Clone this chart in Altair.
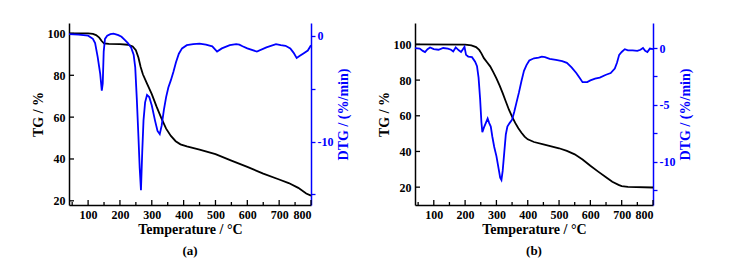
import altair as alt
import pandas as pd

SERIF = "Liberation Serif"
BLUE = "#0000FF"
BLACK = "#000000"

# ---------------- Panel (a) ----------------
TA_TG = [40, 100, 115, 125, 135, 142, 150, 165, 200, 225, 240, 250, 258, 265, 272, 285, 300,
         315, 330, 345, 360, 375, 390, 410, 450, 500, 550, 600, 650, 700, 730, 760, 785, 800]
TG_A = [100, 100, 99.8, 99.2, 98, 96.5, 95.2, 95, 94.9, 94.6, 93.8, 92, 88.5, 84, 80.5, 76, 71,
        65, 59.5, 54.5, 51, 48.5, 47, 46, 44.5, 42.3, 39.2, 36.2, 33, 30.2, 28.5, 26.2, 23.5, 22.5]

TA_DTG = [40, 70, 100, 115, 122, 130, 138, 143, 146, 149, 153, 160, 170, 180, 195, 205, 215, 225,
          235, 243, 248, 253, 258, 262, 266, 270, 274, 279, 285, 292, 300, 310, 318, 325, 331, 338,
          345, 352, 360, 368, 376, 385, 395, 410, 430, 450, 470, 490, 505, 520, 545, 565, 575, 585,
          600, 630, 660, 690, 705, 720, 735, 745, 755, 765, 775, 790, 800]
DTG_A = [0.15, 0.1, 0, -0.3, -0.7, -2, -3.6, -5.2, -4.5, -1.5, -0.3, 0, 0.15, 0.2, 0.05, -0.1, -0.4,
         -0.7, -1.1, -1.8, -3, -6, -9.5, -12.5, -14.6, -11, -8, -6.3, -5.6, -5.8, -6.6, -8, -9, -9.3,
         -8.5, -7, -5.8, -4.9, -4.2, -3.4, -2.5, -1.7, -1.2, -0.9, -0.8, -0.75, -0.85, -1.0, -1.5,
         -1.2, -0.9, -0.8, -0.85, -1.0, -1.2, -1.5, -1.1, -0.8, -0.9, -0.95, -1.2, -1.6, -2.1, -1.9,
         -1.7, -1.4, -0.9]

# ---------------- Panel (b) ----------------
TB_TG = [40, 200, 220, 235, 245, 252, 260, 270, 280, 290, 300, 310, 320, 330, 340, 350, 360, 370,
         380, 390, 400, 420, 450, 500, 525, 550, 575, 600, 625, 650, 670, 690, 700, 720, 800]
TG_B = [100, 99.9, 99.5, 98.5, 96.9, 95, 92.3, 90, 87.7, 84.5, 81, 77, 72.7, 68, 63.4, 59.5, 56,
        53, 50.5, 48.3, 46.8, 45.3, 44, 41.8, 40.3, 38.4, 35.5, 32, 28.7, 25.5, 23, 21.3, 20.6,
        20.2, 19.8]

TB_DTG = [40, 55, 65, 72, 80, 88, 100, 115, 130, 145, 155, 162, 170, 180, 187, 193, 198, 203, 210,
          222, 232, 238, 243, 248, 252, 255, 260, 266, 272, 277, 282, 287, 293, 300, 307, 312, 316,
          320, 325, 330, 335, 342, 350, 357, 364, 372, 380, 388, 396, 405, 420, 435, 445, 455, 470,
          490, 510, 525, 540, 555, 565, 575, 590, 600, 615, 630, 650, 665, 678, 685, 692, 700, 710,
          720, 735, 750, 760, 768, 775, 782, 790, 800]
DTG_B = [0, -0.05, -0.25, -0.35, -0.1, 0.05, -0.1, -0.15, 0, -0.05, -0.15, -0.3, 0.05, -0.2, -0.35,
         -0.1, 0.1, -0.6, -0.75, -0.8, -1.2, -1.6, -2.6, -4.5, -6.5, -7.4, -7.0, -6.6, -6.2, -6.6,
         -6.9, -7.8, -8.7, -9.5, -10.6, -11.4, -11.6, -10.8, -9.2, -7.6, -6.9, -6.6, -6.3, -5.6,
         -4.8, -3.9, -2.9, -2.0, -1.5, -1.1, -0.9, -0.85, -0.75, -0.8, -0.95, -1.05, -1.15, -1.3,
         -1.7, -2.2, -2.6, -3.0, -3.0, -2.85, -2.7, -2.6, -2.35, -2.2, -1.8, -1.3, -0.6, -0.35, -0.1,
         -0.2, -0.2, -0.25, -0.15, 0.0, -0.25, -0.35, -0.05, -0.1]

# ---------------- axis ticks / labels ----------------
X_DOMAIN = [40, 800]
X_LABELS = [100, 200, 300, 400, 500, 600, 700, 800]
X_MINOR = [50, 150, 250, 350, 450, 550, 650, 750]
TG_LABELS = [20, 40, 60, 80, 100]
DTG_TICKS_A = [0, -5, -10, -15]
DTG_TICKS_B = [0, -2.5, -5, -7.5, -10, -12.5]


def panel(t_tg, tg, t_dtg, dtg, tg_dom, dtg_dom, dtg_ticks, label_step, label, width, height):
    df_tg = pd.DataFrame({"T": t_tg, "TG": tg})
    df_dtg = pd.DataFrame({"T": t_dtg, "DTG": dtg})
    df_xmaj = pd.DataFrame({"T": X_LABELS})
    df_xmin = pd.DataFrame({"T": X_MINOR})
    df_ytick = pd.DataFrame({"TG": TG_LABELS})

    xscale = alt.Scale(domain=X_DOMAIN, nice=False, zero=False)
    xaxis = alt.Axis(values=X_LABELS, title="Temperature / °C", ticks=False, tickSize=0,
                     labelPadding=4, titlePadding=2, domainColor=BLACK, domainWidth=1.5,
                     labelColor=BLACK, titleColor=BLACK, format="d")
    tgscale = alt.Scale(domain=tg_dom, nice=False, zero=False)
    tgaxis = alt.Axis(values=TG_LABELS, title="TG / %", ticks=False, tickSize=0, labelPadding=4,
                      titlePadding=2, domainColor=BLACK, domainWidth=1.5, labelColor=BLACK,
                      titleColor=BLACK, format="d", orient="left")

    x_enc = alt.X("T:Q", scale=xscale, axis=xaxis)

    tg_line = alt.Chart(df_tg).mark_line(color=BLACK, strokeWidth=1.8).encode(
        x=x_enc, y=alt.Y("TG:Q", scale=tgscale, axis=tgaxis))
    xmaj = alt.Chart(df_xmaj).mark_rule(color=BLACK, strokeWidth=1.3).encode(
        x=x_enc, y=alt.value(height), y2=alt.value(height - 5))
    xmin = alt.Chart(df_xmin).mark_rule(color=BLACK, strokeWidth=1.3).encode(
        x=x_enc, y=alt.value(height), y2=alt.value(height - 3))
    ytk = alt.Chart(df_ytick).mark_rule(color=BLACK, strokeWidth=1.3).encode(
        y=alt.Y("TG:Q", scale=tgscale, axis=tgaxis), x=alt.value(0), x2=alt.value(5))
    tg_group = alt.layer(tg_line, xmaj, xmin, ytk)

    dtgscale = alt.Scale(domain=dtg_dom, nice=False, zero=False)
    label_expr = ("datum.value == 0 ? '0' : (datum.value % " + str(label_step) +
                  " == 0 ? '-' + abs(datum.value) : '')")
    dtgaxis = alt.Axis(orient="right", values=dtg_ticks, labelExpr=label_expr,
                       title="DTG / (%/min)", titleAngle=270, titleBaseline="top",
                       tickSize=4, tickWidth=1.3,
                       tickColor=BLUE, domainColor=BLUE, domainWidth=1.5, labelColor=BLUE,
                       titleColor=BLUE, labelPadding=2, titlePadding=4)
    dtg_line = alt.Chart(df_dtg).mark_line(color=BLUE, strokeWidth=1.8).encode(
        x=x_enc, y=alt.Y("DTG:Q", scale=dtgscale, axis=dtgaxis))

    return alt.layer(tg_group, dtg_line).resolve_scale(y="independent").properties(
        width=width, height=height,
        title=alt.TitleParams(label, orient="bottom", font=SERIF, fontSize=13,
                              fontWeight="bold", color=BLACK, offset=9, frame="group"))


pa = panel(TA_TG, TG_A, TA_DTG, DTG_A, [18, 105], [-16, 1.2], DTG_TICKS_A, 10, "(a)", 242, 182)
pb = panel(TB_TG, TG_B, TB_DTG, DTG_B, [10, 112], [-13.8, 2.2], DTG_TICKS_B, 5, "(b)", 238, 182)

chart = alt.hconcat(pa, pb, spacing=24).properties(
    padding={"left": 22, "top": 14, "right": 5, "bottom": 0},
    background="white",
).configure_view(stroke="transparent").configure_axis(
    grid=False,
    labelFont=SERIF, labelFontSize=12, labelFontWeight="bold",
    titleFont=SERIF, titleFontSize=14, titleFontWeight="bold",
)

chart.save("out.html", embed_options={"renderer": "svg", "actions": False})
